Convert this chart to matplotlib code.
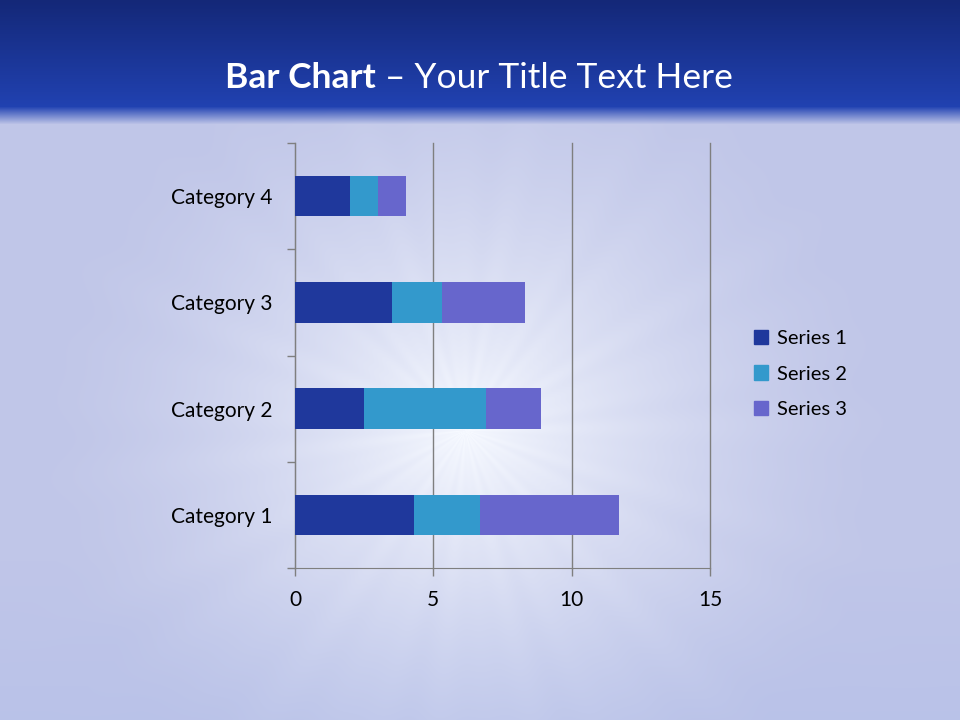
import numpy as np
import matplotlib
matplotlib.use("Agg")
import matplotlib.pyplot as plt
from matplotlib.patches import Patch

plt.rcParams['font.family'] = ['Lato', 'DejaVu Sans']

# データ
categories = ["Category 1", "Category 2", "Category 3", "Category 4"]
series_names = ["Series 1", "Series 2", "Series 3"]
series1 = [4.3, 2.5, 3.5, 2.0]
series2 = [2.4, 4.4, 1.8, 1.0]
series3 = [5.0, 2.0, 3.0, 1.0]
colors = ['#1f389c', '#3399cc', '#6766cc']

W, H = 960, 720
fig = plt.figure(figsize=(W / 100, H / 100), dpi=100)

# 背景 (ヘッダー帯 + 放射状の光)
yy, xx = np.mgrid[0:H, 0:W].astype(float)
top = np.array([20, 40, 120]) / 255.0
mid = np.array([33, 66, 178]) / 255.0
base = np.array([192, 198, 232]) / 255.0
glow = np.array([246, 249, 255]) / 255.0

r = np.hypot(xx - 465, (yy - 430) * 1.05)
theta = np.arctan2(yy - 430, xx - 465)
rays = 0.05 * np.cos(theta * 23) + 0.04 * np.cos(theta * 37 + 1.0)
g = np.clip(1 - r / 440, 0, 1) ** 1.6
g = np.clip(g + rays * np.clip(1 - r / 550, 0, 1) * 0.5, 0, 1)
img = base[None, None, :] * (1 - g[..., None]) + glow[None, None, :] * g[..., None]
shade = np.clip((yy - 560) / 160, 0, 1)[..., None] * 0.05
img = np.clip(img - shade * np.array([0.5, 0.3, 0.0]), 0, 1)

t = np.clip(yy / 108, 0, 1)[..., None]
head = top * (1 - t) + mid * t
blend = np.clip((yy - 106) / 18, 0, 1)[..., None]
img = head * (1 - blend) + img * blend

bg = fig.add_axes([0, 0, 1, 1])
bg.imshow(img, aspect='auto', extent=(0, W, H, 0))
bg.set_axis_off()

# タイトル
t1 = fig.text(225 / W, 1 - 88 / H, "Bar Chart", color='white', fontsize=25.5,
              fontweight='bold', ha='left', va='baseline')
bg.annotate(" \u2013 Your Title Text Here", xy=(1, 0), xycoords=t1,
            color='white', fontsize=25.5, ha='left', va='bottom')

# 積み上げ横棒グラフ
ax = fig.add_axes([295 / W, 1 - 568 / H, 415 / W, 425 / H])
ax.patch.set_alpha(0)
y = np.arange(len(categories))
left = np.zeros(len(categories))
for name, vals, c in zip(series_names, [series1, series2, series3], colors):
    ax.barh(y, vals, left=left, height=0.38, color=c, label=name, zorder=3)
    left += np.array(vals)

ax.set_xlim(0, 15)
ax.set_ylim(-0.5, len(categories) - 0.5)
ax.set_xticks([0, 5, 10, 15])
ax.set_yticks(y)
ax.set_yticklabels(categories)
ax.set_yticks(np.arange(-0.5, len(categories), 1), minor=True)
ax.tick_params(axis='y', which='major', length=0, pad=16, labelsize=15, labelcolor='black')
ax.tick_params(axis='y', which='minor', length=6, color='#7f7f7f', width=1)
ax.tick_params(axis='x', length=6, color='#7f7f7f', width=1, labelsize=15, pad=10)
ax.grid(axis='x', color='#7f7f7f', linewidth=1, zorder=0)
for gl in ax.get_xgridlines():
    gl.set_clip_on(False)
for s in ['top', 'right']:
    ax.spines[s].set_visible(False)
for s in ['left', 'bottom']:
    ax.spines[s].set_color('#7f7f7f')

handles = [Patch(color=c, label=n) for n, c in zip(series_names, colors)]
fig.legend(handles=handles, loc='center left', bbox_to_anchor=(736 / W, 1 - 374 / H),
           frameon=False, fontsize=14.5, handlelength=0.7, handleheight=0.7,
           handletextpad=0.45, labelspacing=0.9)

plt.savefig("out.png", dpi=100)
plt.close()
